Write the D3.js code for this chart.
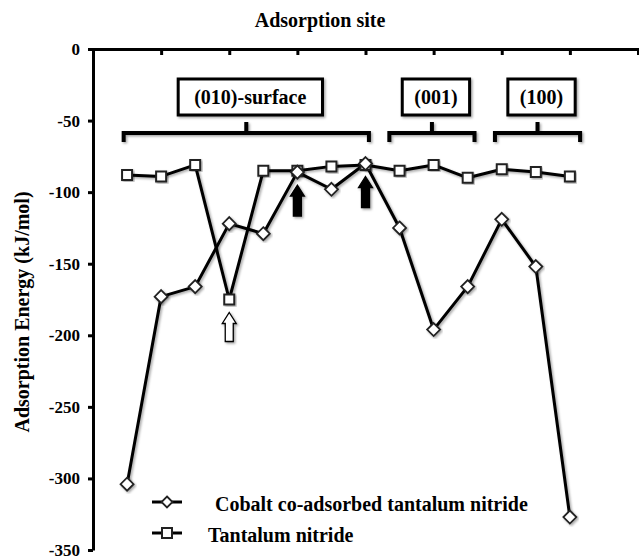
<!DOCTYPE html>
<html>
<head>
<meta charset="utf-8">
<script src="https://cdn.jsdelivr.net/npm/d3@7/dist/d3.min.js"></script>
<style>
  html, body { margin: 0; padding: 0; background: #fff; }
  svg { display: block; }
  text { font-family: "Liberation Serif", "Times New Roman", serif; font-weight: bold; fill: #000; }
</style>
</head>
<body>
<div id="chart"></div>
<script>
// ---- data ----
const sites = [1, 2, 3, 4, 5, 6, 7, 8, 9, 10, 11, 12, 13, 14];
const cobaltValues = [-304, -173, -166, -122, -129, -86, -98, -80, -125, -196, -166, -119, -152, -327];
const tantalumValues = [-88, -89, -81, -175, -85, -85, -82, -81, -85, -81, -90, -84, -86, -89];
const seriesNames = [" Cobalt co-adsorbed tantalum nitride", "Tantalum nitride"];
const yTicks = [0, -50, -100, -150, -200, -250, -300, -350];
const xTicks = [0, 2, 4, 6, 8, 10, 12, 14, 16];
const groupLabels = ["(010)-surface", "(001)", "(100)"];
const groupFrom = [0.9, 8.7, 11.8];
const groupTo = [8.1, 11.2, 14.3];
const arrowSites = [4, 6, 8];
const arrowKinds = ["hollow", "filled", "filled"];
const arrowSeries = [1, 0, 0];

// ---- layout ----
const W = 639, H = 560;
const svg = d3.select("#chart").append("svg").attr("width", W).attr("height", H);

const defs = svg.append("defs");
const f = defs.append("filter").attr("id", "sh").attr("x", "-20%").attr("y", "-20%").attr("width", "140%").attr("height", "140%");
f.append("feDropShadow").attr("dx", 1.5).attr("dy", 1.5).attr("stdDeviation", 1.2)
  .attr("flood-color", "#000").attr("flood-opacity", 0.35);

const x = d3.scaleLinear().domain([0, 16]).range([93, 638]);
const y = d3.scaleLinear().domain([-350, 0]).range([550, 49]);

// title
svg.append("text").attr("x", 320).attr("y", 27).attr("text-anchor", "middle")
  .style("font-size", "20px").text("Adsorption site");

// y axis label
svg.append("text").attr("transform", "translate(29,312) rotate(-90)")
  .attr("text-anchor", "middle").style("font-size", "20px").text("Adsorption Energy (kJ/mol)");

// top axis (ticks pointing down into plot)
const gx = svg.append("g").attr("transform", `translate(0,${y(0)})`)
  .call(d3.axisBottom(x).tickValues(xTicks).tickSize(6).tickSizeOuter(6).tickFormat(""));
gx.selectAll("path, line").attr("stroke", "#000").attr("stroke-width", 3);

// left axis
const gy = svg.append("g").attr("transform", `translate(${x(0)},0)`)
  .call(d3.axisLeft(y).tickValues(yTicks).tickSize(5).tickSizeOuter(0).tickPadding(8).tickFormat(d => String(d)));
gy.selectAll("path, line").attr("stroke", "#000").attr("stroke-width", 3);
gy.selectAll("text").style("font-size", "17px").style("font-family", "'Liberation Serif', serif").style("font-weight", "bold");

// group brackets and boxes
groupLabels.forEach((lab, i) => {
  const x0 = x(groupFrom[i]), x1 = x(groupTo[i]);
  const xc = (x0 + x1) / 2;
  const by = 133;
  svg.append("path")
    .attr("d", `M${x0},${by + 9}V${by}H${x1}V${by + 9}M${xc},${by}V${by - 11}`)
    .attr("fill", "none").attr("stroke", "#000").attr("stroke-width", 4)
    .attr("filter", "url(#sh)");
  const g = svg.append("g");
  const t = g.append("text").attr("x", xc + 4).attr("y", 104).attr("text-anchor", "middle")
    .style("font-size", "20px").text(lab);
  const bb = t.node().getBBox();
  const padX = i === 0 ? 16 : 12;
  g.insert("rect", "text")
    .attr("x", bb.x - padX).attr("y", 79).attr("width", bb.width + 2 * padX).attr("height", 36)
    .attr("fill", "#fff").attr("stroke", "#000").attr("stroke-width", 3)
    .attr("filter", "url(#sh)");
});

// series lines
const seriesData = [cobaltValues, tantalumValues];
const line = d3.line().x((d, i) => x(sites[i])).y(d => y(d));
seriesData.forEach(vals => {
  svg.append("path").datum(vals).attr("d", line)
    .attr("fill", "none").attr("stroke", "#000").attr("stroke-width", 3)
    .attr("stroke-linejoin", "round").attr("filter", "url(#sh)");
});

// markers
const diamond = (cx, cy, r) => `M${cx},${cy - r}L${cx + r},${cy}L${cx},${cy + r}L${cx - r},${cy}Z`;
svg.append("g").selectAll("path").data(tantalumValues).join("path")
  .attr("d", (d, i) => { const cx = x(sites[i]), cy = y(d); return `M${cx - 5},${cy - 5}h10v10h-10Z`; })
  .attr("fill", "#fff").attr("stroke", "#222").attr("stroke-width", 2).attr("filter", "url(#sh)");
svg.append("g").selectAll("path").data(cobaltValues).join("path")
  .attr("d", (d, i) => diamond(x(sites[i]), y(d), 6.5))
  .attr("fill", "#fff").attr("stroke", "#222").attr("stroke-width", 1.8).attr("filter", "url(#sh)");

// arrows
arrowSites.forEach((s, k) => {
  const vals = seriesData[arrowSeries[k]];
  const cx = x(s), tip = y(vals[sites.indexOf(s)]) + 13;
  const len = arrowKinds[k] === "hollow" ? 29 : 31;
  const hw = 7, sw = 4, hh = 11;
  const d = `M${cx},${tip}L${cx + hw},${tip + hh}H${cx + sw}V${tip + len}H${cx - sw}V${tip + hh}H${cx - hw}Z`;
  svg.append("path").attr("d", d)
    .attr("fill", arrowKinds[k] === "hollow" ? "#fff" : "#000")
    .attr("stroke", "#000").attr("stroke-width", 1.3).attr("filter", "url(#sh)");
});

// legend
const legY = [502, 533];
const legTextX = [210, 208];
seriesNames.forEach((name, i) => {
  svg.append("line").attr("x1", 152).attr("x2", 182).attr("y1", legY[i]).attr("y2", legY[i])
    .attr("stroke", "#000").attr("stroke-width", 3);
  if (i === 0) {
    svg.append("path").attr("d", diamond(167, legY[i], 5.5)).attr("fill", "#fff").attr("stroke", "#222").attr("stroke-width", 1.8);
  } else {
    svg.append("path").attr("d", `M${167 - 5},${legY[i] - 5}h10v10h-10Z`).attr("fill", "#fff").attr("stroke", "#222").attr("stroke-width", 2);
  }
  svg.append("text").attr("x", legTextX[i]).attr("y", legY[i] + 9).style("font-size", "20px")
    .attr("xml:space", "preserve").style("white-space", "pre").text(name);
});
</script>
</body>
</html>
